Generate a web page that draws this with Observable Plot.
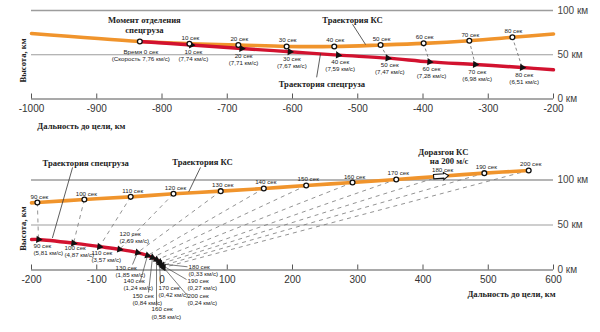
<!DOCTYPE html>
<html><head><meta charset="utf-8">
<script src="https://cdn.jsdelivr.net/npm/d3@7"></script>
<script src="https://cdn.jsdelivr.net/npm/@observablehq/plot@0.6"></script>
<style>
body{margin:0;background:#fff;}
#chart{width:600px;}
#chart svg{display:block;}
</style></head><body><div id="chart"></div>
<script>
// ---------- DATA ----------
// Upper panel: KS (spacecraft) path, range to target (km), altitude (km), time (s)
const ksTopX    = [-1000, -834, -758, -683, -609, -536, -465, -399, -329, -263, -200];
const ksTopAlt  = [74, 65, 62.5, 61, 59.4, 59.4, 61, 62.9, 65.9, 69.7, 73.5];
const ksTopTime = [null, 0, 10, 20, 30, 40, 50, 60, 70, 80, null];
// Upper panel: payload path
const cargoTopX     = [-834, -755, -678, -604, -530, -454, -390, -320, -248, -200];
const cargoTopAlt   = [65, 61, 57, 53.4, 49.6, 46.2, 42, 39, 35.6, 33];
const cargoTopTime  = [0, 10, 20, 30, 40, 50, 60, 70, 80, null];
const cargoTopSpeed = ["7,76", "7,74", "7,71", "7,67", "7,59", "7,47", "7,28", "6,98", "6,51", null];
// Lower panel: KS path
const ksBotX    = [-200, -191, -119, -48, 17.6, 90, 156, 221, 292, 359, 427, 494, 562];
const ksBotAlt  = [74.6, 75, 78.3, 81.3, 84.7, 87.6, 90.6, 93.9, 97.2, 100.6, 104.2, 107.6, 110.6];
const ksBotTime = [null, 90, 100, 110, 120, 130, 140, 150, 160, 170, 180, 190, 200];
// Lower panel: payload path
const cargoBotX     = [-200, -189.3, -135.6, -95.8, -65.1, -37.5, -22.2, -14.6, -8.4, -3.8, -2.3, 0.8, 2.3];
const cargoBotAlt   = [33.9, 33.9, 29.8, 26, 23, 19.4, 16.1, 13.9, 11.4, 8.7, 6.9, 5, 2.8];
const cargoBotTime  = [null, 90, 100, 110, 120, 130, 140, 150, 160, 170, 180, 190, 200];
const cargoBotSpeed = [null, "5,81", "4,87", "3,57", "2,69", "1,85", "1,24", "0,84", "0,58", "0,42", "0,33", "0,27", "0,24"];
const boostTime = 180;
// Axis ticks
const topTicks = [-1000, -900, -800, -700, -600, -500, -400, -300, -200];
const botTicks = [-200, -100, 0, 100, 200, 300, 400, 500, 600];
const altTicks = [0, 50, 100];

// ---------- LAYOUT ----------
const W = 600, mL = 31, mR = 47;
const topH = 140, topMT = 10, topMB = 41.5;
const botH = 192, botMT = 39.5, botMB = 62.5;
const kx = (W - mL - mR) / 800;
const kyTop = (topH - topMT - topMB) / 100;
const kyBot = (botH - botMT - botMB) / 100;
// callout label offsets (px) for lower payload labels: [labelDx, labelDy, leaderDx, leaderDy]
const botCallout = {
  90: [-5, 10], 100: [-9, 8], 110: [-8, 10], 120: [0, -12],
  130: [-22, 19, -5, 12], 140: [-24, 29, -7, 25], 150: [-20, 42, -4, 35],
  160: [-5, 53, 0, 46], 170: [-1, 29, 1, 22], 180: [28, 6, 27, 3],
  190: [25, 19, 24, 14], 200: [24, 32, 23, 27]
};

const FONT = '"Liberation Sans Narrow","Arial Narrow","Liberation Sans",Arial,sans-serif';
const SERIF = '"Liberation Serif","Times New Roman",serif';
const ORANGE = "#f0942c", RED = "#d2122f", GRID = "#9d9d9d", INK = "#222";

function pts(xs, ys, ts, vs) { return xs.map((x, i) => ({x, y: ys[i], t: ts[i], v: vs ? vs[i] : null})); }
function addAngles(arr, ky) {
  arr.forEach((d, i) => {
    const a = arr[Math.max(0, i - 1)], b = arr[Math.min(arr.length - 1, i + 1)];
    d.ang = Math.atan2(-(b.y - a.y) * ky, (b.x - a.x) * kx) * 180 / Math.PI;
  });
  return arr;
}
function links(ks, cargo, filt) {
  const out = [];
  for (const c of cargo) {
    if (c.t == null || !filt(c.t)) continue;
    const k = ks.find(d => d.t === c.t);
    if (k) out.push({x1: k.x, y1: k.y, x2: c.x, y2: c.y});
  }
  return out;
}
const small = {fontFamily: FONT, fontSize: 6.2, fill: INK, lineHeight: 1.15};
const boldSerif = {fontFamily: SERIF, fontWeight: "bold", fontSize: 8.6, fill: INK, lineHeight: 1.15};

const boostArrow = {
  draw(ctx) {
    ctx.moveTo(-7, -2.2); ctx.lineTo(3, -2.2); ctx.lineTo(3, -3.6); ctx.lineTo(8, 0);
    ctx.lineTo(3, 3.6); ctx.lineTo(3, 2.2); ctx.lineTo(-7, 2.2); ctx.closePath();
  }
};

// ---------- TOP PANEL ----------
const ksTop = addAngles(pts(ksTopX, ksTopAlt, ksTopTime), kyTop);
const cargoTop = addAngles(pts(cargoTopX, cargoTopAlt, cargoTopTime, cargoTopSpeed), kyTop);
const sep = cargoTop.find(d => d.t === 0);

function frame(domain, h, mt, mb) {
  return {
    width: W, height: h, marginLeft: mL, marginRight: mR, marginTop: mt, marginBottom: mb,
    x: {domain, label: null}, y: {domain: [0, 100], label: null},
    style: {fontFamily: FONT, color: "#333", background: "#fff", overflow: "visible"}
  };
}
function axes(ticks) {
  return [
    Plot.ruleY([100], {stroke: GRID, strokeWidth: 1.6}),
    Plot.ruleY([50], {stroke: GRID, strokeWidth: 1}),
    Plot.ruleY([0], {stroke: "#555", strokeWidth: 1.2}),
    Plot.axisX(ticks, {tickSize: -5, tickPadding: 11, fontSize: 10, label: null, stroke: "#555", tickFormat: d => String(d)}),
    Plot.axisY(altTicks, {anchor: "right", tickSize: 0, tickPadding: 4, fontSize: 10, label: null, fill: "#444", tickFormat: d => `${d} км`})
  ];
}

const topPlot = Plot.plot({
  ...frame([-1000, -200], topH, topMT, topMB),
  marks: [
    ...axes(topTicks),
    Plot.link(links(ksTop, cargoTop, t => t > 0), {x1: "x1", y1: "y1", x2: "x2", y2: "y2", stroke: "#666", strokeWidth: 0.8, strokeDasharray: "3,2.5"}),
    Plot.line(ksTop, {x: "x", y: "y", curve: "catmull-rom", stroke: ORANGE, strokeWidth: 3.6}),
    Plot.line(cargoTop, {x: "x", y: "y", curve: "catmull-rom", stroke: RED, strokeWidth: 3.4}),
    Plot.dot(cargoTop.filter(d => d.t > 0), {x: "x", y: "y", symbol: "triangle", r: 2.7, fill: "#111", rotate: d => 90 + d.ang}),
    Plot.dot(ksTop.filter(d => d.t != null), {x: "x", y: "y", r: 2.4, fill: "white", stroke: "#111", strokeWidth: 1.3}),
    Plot.text(ksTop.filter(d => d.t > 0), {x: "x", y: "y", text: d => `${d.t} сек`, dx: 1, dy: -4, lineAnchor: "bottom", ...small}),
    Plot.text(cargoTop.filter(d => d.t > 0), {x: "x", y: "y", text: d => `${d.t} сек\n(${d.v} км/с)`, dx: 2, dy: 4, lineAnchor: "top", ...small}),
    Plot.text([sep], {x: "x", y: "y", text: d => `Время ${d.t} сек\n(Скорость ${d.v} км/с)`, dx: 1, dy: 7.5, lineAnchor: "top", ...small}),
    Plot.text(["Момент отделения\nспецгруза"], {x: sep.x + 7, y: 84, text: d => d, ...boldSerif}),
    Plot.text(["Траектория КС"], {x: -508, y: 89.8, text: d => d, ...boldSerif}),
    Plot.link([0], {x1: -508, y1: 84.5, x2: -488, y2: 61.5, stroke: "#333", strokeWidth: 0.8}),
    Plot.text(["Траектория спецгруза"], {x: -555, y: 17.5, text: d => d, ...boldSerif}),
    Plot.link([0], {x1: -563, y1: 24.5, x2: -557, y2: 51.5, stroke: "#333", strokeWidth: 0.8}),
    Plot.text(["Высота, км"], {x: -1000, y: 43.5, dx: -9, rotate: -90, text: d => d, ...boldSerif}),
    Plot.text(["Дальность до цели, км"], {x: -991, y: 0, dy: 27, textAnchor: "start", text: d => d, ...boldSerif})
  ]
});

// ---------- BOTTOM PANEL ----------
const ksBot = addAngles(pts(ksBotX, ksBotAlt, ksBotTime), kyBot);
const cargoBot = addAngles(pts(cargoBotX, cargoBotAlt, cargoBotTime, cargoBotSpeed), kyBot);
const cargoLabels = cargoBot.filter(d => d.t != null).map(d => {
  const o = botCallout[d.t];
  return {...d, lx: d.x + o[0] / kx, ly: d.y - o[1] / kyBot,
    hasLeader: o.length > 2, ex: o.length > 2 ? d.x + o[2] / kx : d.x, ey: o.length > 2 ? d.y - o[3] / kyBot : d.y};
});

const botPlot = Plot.plot({
  ...frame([-200, 600], botH, botMT, botMB),
  marks: [
    ...axes(botTicks),
    Plot.link(links(ksBot, cargoBot, t => true), {x1: "x1", y1: "y1", x2: "x2", y2: "y2", stroke: "#777", strokeWidth: 0.8, strokeDasharray: "4,4"}),
    Plot.line(ksBot, {x: "x", y: "y", curve: "catmull-rom", stroke: ORANGE, strokeWidth: 3.6}),
    Plot.line(cargoBot, {x: "x", y: "y", curve: "catmull-rom", stroke: RED, strokeWidth: 3.4}),
    Plot.link(cargoLabels.filter(d => d.hasLeader), {x1: "x", y1: "y", x2: "ex", y2: "ey", stroke: "#444", strokeWidth: 0.7}),
    Plot.dot(cargoBot.filter(d => d.t != null), {x: "x", y: "y", symbol: "triangle", r: 2.7, fill: "#111", rotate: d => 90 + d.ang}),
    Plot.dot(ksBot.filter(d => d.t != null && d.t !== boostTime), {x: "x", y: "y", r: 2.4, fill: "white", stroke: "#111", strokeWidth: 1.3}),
    Plot.dot(ksBot.filter(d => d.t === boostTime), {x: "x", y: "y", symbol: boostArrow, fill: "white", stroke: "#111", strokeWidth: 1.1, rotate: d => d.ang}),
    Plot.text(ksBot.filter(d => d.t != null), {x: "x", y: "y", text: d => `${d.t} сек`, dx: 2, dy: -4, lineAnchor: "bottom", ...small}),
    Plot.text(cargoLabels, {x: "lx", y: "ly", text: d => `${d.t} сек\n(${d.v} км/с)`, textAnchor: "start", lineAnchor: "middle", ...small}),
    Plot.text(["Траектория спецгруза"], {x: -117, y: 119.4, text: d => d, ...boldSerif}),
    Plot.link([0], {x1: -137, y1: 114, x2: -168, y2: 35.5, stroke: "#333", strokeWidth: 0.8}),
    Plot.text(["Траектория КС"], {x: 62, y: 120.5, text: d => d, ...boldSerif}),
    Plot.link([0], {x1: 59, y1: 114, x2: 41, y2: 87, stroke: "#333", strokeWidth: 0.8}),
    Plot.text(["Доразгон КС\nна 200 м/с"], {x: 469.5, y: 125.6, textAnchor: "end", text: d => d, ...boldSerif, lineHeight: 1.05}),
    Plot.text(["Высота, км"], {x: -200, y: 46, dx: -9, rotate: -90, text: d => d, ...boldSerif}),
    Plot.text(["Дальность до цели, км"], {x: 600, y: 0, dx: 2, dy: 23.5, textAnchor: "end", text: d => d, ...boldSerif})
  ]
});

const root = document.getElementById("chart");
root.append(topPlot, botPlot);
</script></body></html>
